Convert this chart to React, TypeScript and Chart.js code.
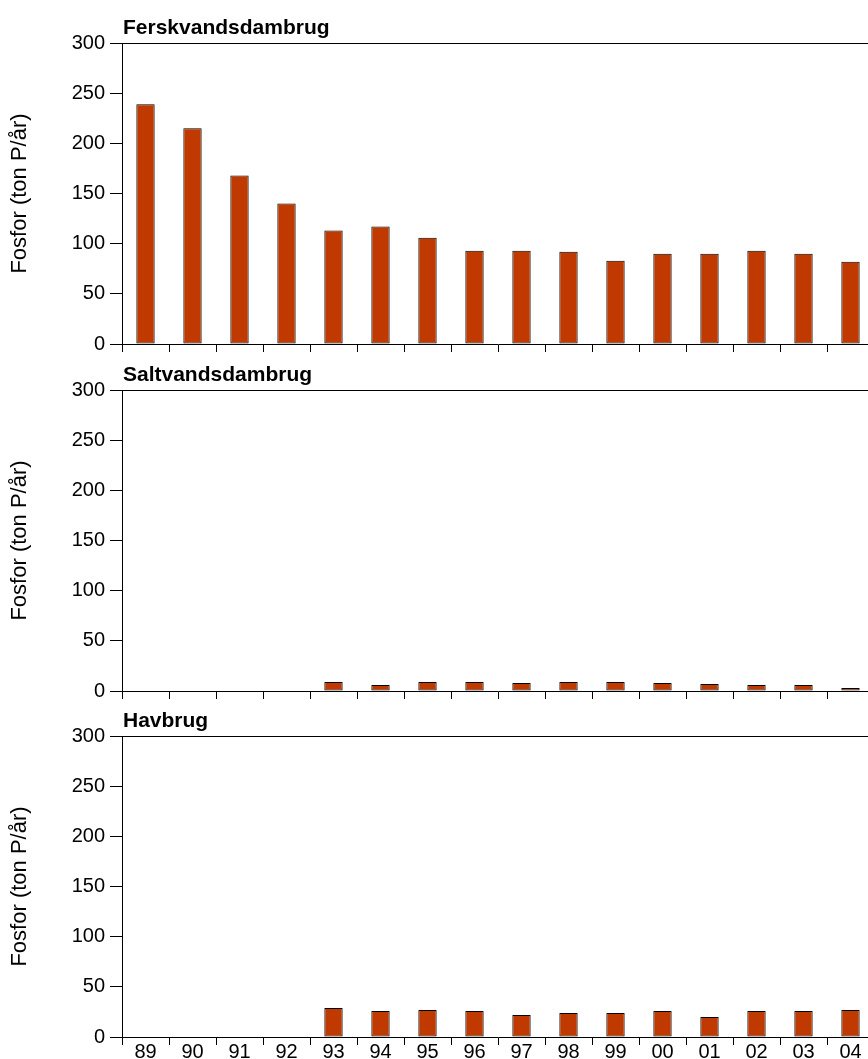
import React, { useEffect, useRef } from "react";
import { Chart, registerables } from "chart.js";

Chart.register(...registerables);

const years = ["89", "90", "91", "92", "93", "94", "95", "96", "97", "98", "99", "00", "01", "02", "03", "04"];
const ferskvand = [239, 215, 168, 140, 113, 117, 106, 93, 93, 92, 83, 90, 90, 93, 90, 82];
const saltvand = [null, null, null, null, 9, 6, 9, 9, 8, 9, 9, 8, 7, 6, 6, 3];
const havbrug = [null, null, null, null, 29, 26, 27, 26, 22, 24, 24, 26, 20, 26, 26, 27];
const panelTitles = ["Ferskvandsdambrug", "Saltvandsdambrug", "Havbrug"];
const yLabel = "Fosfor (ton P/år)";
const yMin = 0;
const yMax = 300;
const yStep = 50;

const FONT = "'Liberation Sans', Arial, Helvetica, sans-serif";
const BAR_COLOR = "#c03a00";

const panelTitlePlugin = {
  id: "panelTitle",
  afterDraw(chart: any, _args: any, opts: any) {
    const { ctx, chartArea } = chart;
    ctx.save();
    ctx.strokeStyle = "#000";
    ctx.lineWidth = 1;
    ctx.beginPath();
    const y = Math.round(chartArea.top) + 0.5;
    ctx.moveTo(chartArea.left, y);
    ctx.lineTo(chartArea.right, y);
    ctx.stroke();
    ctx.fillStyle = "#000";
    ctx.font = `bold 21px ${FONT}`;
    ctx.textBaseline = "alphabetic";
    ctx.textAlign = "left";
    ctx.fillText(opts.text, chartArea.left + 1, chartArea.top - 9);
    ctx.restore();
  },
};

function Panel({ title, values, showX, top }: { title: string; values: (number | null)[]; showX: boolean; top: number }) {
  const ref = useRef<HTMLCanvasElement>(null);
  useEffect(() => {
    if (!ref.current) return;
    const chart = new Chart(ref.current, {
      type: "bar",
      data: {
        labels: years,
        datasets: [
          {
            data: values as any,
            backgroundColor: BAR_COLOR,
            borderColor: "#000",
            borderWidth: 1,
            borderSkipped: false,
            barPercentage: 0.39,
            categoryPercentage: 1,
          },
        ],
      },
      options: {
        responsive: false,
        animation: false,
        devicePixelRatio: 1,
        layout: { padding: { top: 43, left: 0, right: 6, bottom: 0 } },
        plugins: {
          legend: { display: false },
          tooltip: { enabled: false },
          title: { display: false },
          panelTitle: { text: title },
        } as any,
        scales: {
          x: {
            offset: true,
            grid: { display: true, offset: true, drawOnChartArea: false, drawTicks: true, tickLength: 8, color: "#000" },
            border: { display: true, color: "#000", width: 1 },
            ticks: { display: showX, color: "#000", font: { family: FONT, size: 20 }, padding: -5, maxRotation: 0, autoSkip: false },
            afterFit(scale: any) {
              scale.height = 22;
            },
          },
          y: {
            min: yMin,
            max: yMax,
            grid: { display: true, drawOnChartArea: false, drawTicks: true, tickLength: 12, color: "#000" },
            border: { display: true, color: "#000", width: 1 },
            ticks: { stepSize: yStep, color: "#000", font: { family: FONT, size: 20 }, padding: 5 },
            title: {
              display: true,
              text: yLabel,
              color: "#000",
              font: { family: FONT, size: 22, weight: "normal" },
              padding: { top: 7, bottom: 0 },
            },
            afterFit(scale: any) {
              scale.width = 122;
            },
          },
        },
      },
      plugins: [panelTitlePlugin],
    });
    return () => chart.destroy();
  }, [title, values, showX]);
  return (
    <canvas
      ref={ref}
      width={880}
      height={366}
      style={{ position: "absolute", left: 0, top, width: 880, height: 366 }}
    />
  );
}

export default function App() {
  const series = [ferskvand, saltvand, havbrug];
  const tops = [0, 347, 693];
  return (
    <div
      style={{
        position: "absolute",
        left: 0,
        top: 0,
        width: 868,
        height: 1059,
        overflow: "hidden",
        background: "#fff",
      }}
    >
      {panelTitles.map((t, i) => (
        <Panel key={t} title={t} values={series[i]} showX={i === 2} top={tops[i]} />
      ))}
    </div>
  );
}
